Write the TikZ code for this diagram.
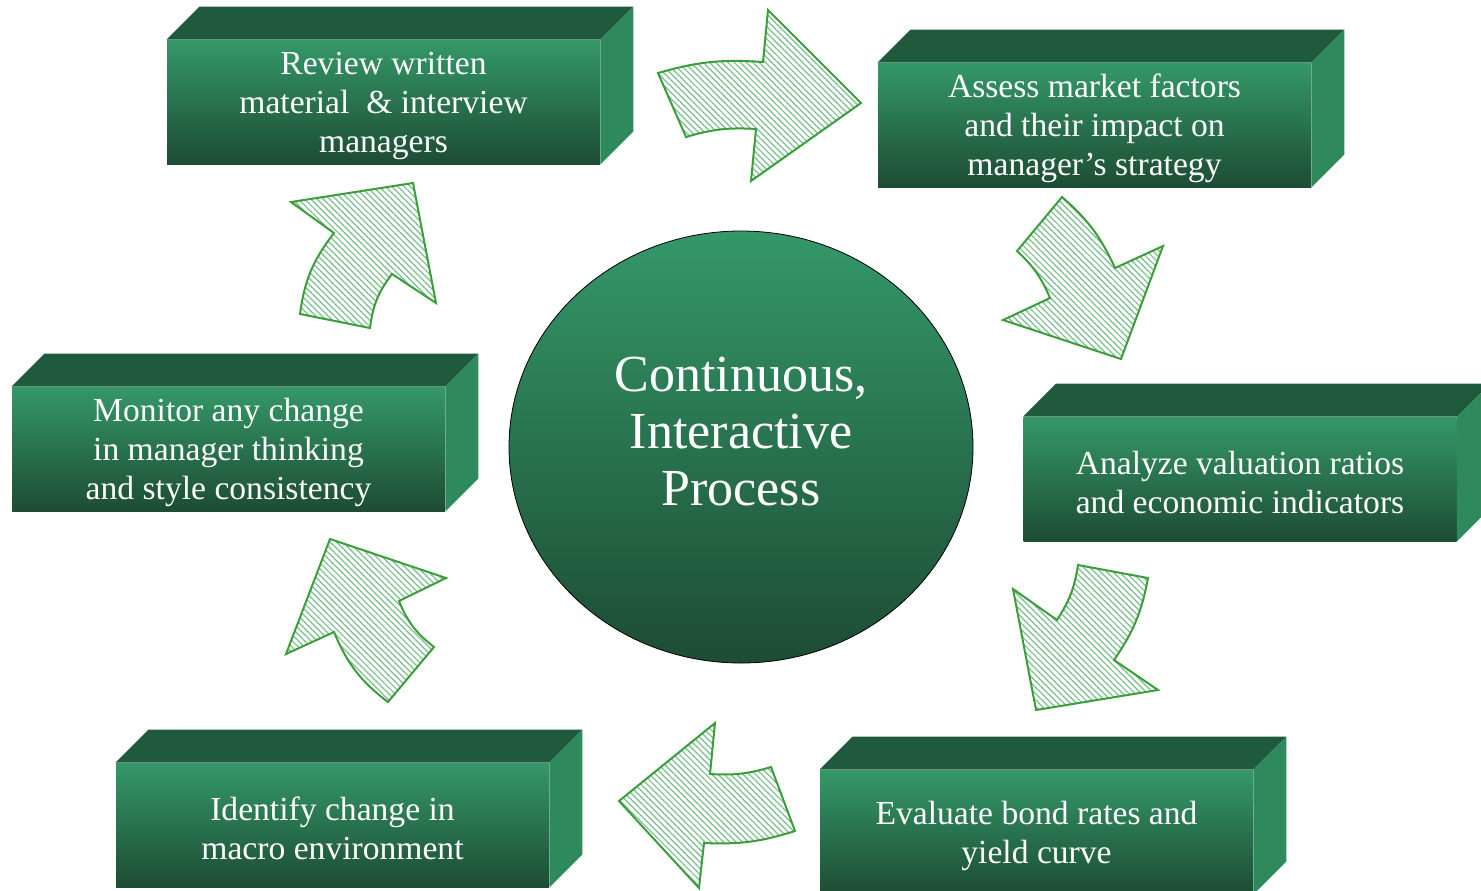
\documentclass[tikz,border=0pt]{standalone}
\usepackage{fontspec}
\setmainfont{Liberation Serif}
\usetikzlibrary{shapes.geometric,patterns.meta}

\definecolor{facetop}{RGB}{52,152,105}
\definecolor{facebot}{RGB}{29,76,52}
\definecolor{lidgreen}{RGB}{31,90,62}
\definecolor{sidegreen}{RGB}{46,138,92}
\definecolor{arrowline}{RGB}{58,158,58}
\definecolor{hatchgreen}{RGB}{120,190,140}

% extra room above the first line, pushes the text a little down
\newcommand{\topgap}{\rule{0pt}{15.5pt}}

\tikzset{
  face/.style    = {rectangle, inner sep=0pt, minimum width=216.5pt, minimum height=62pt,
                    top color=facetop, bottom color=facebot, text=white, align=center,
                    font=\fontsize{16.8}{19.5}\selectfont},
  lidface/.style  = {fill=lidgreen},
  sideface/.style = {fill=sidegreen},
  hub/.style     = {ellipse, draw=black, thin, minimum width=232pt, minimum height=216pt,
                    top color=facetop, bottom color=facebot},
  hubtext/.style = {text=white, align=center, font=\fontsize{26}{28.5}\selectfont},
  hatch/.style   = {draw=arrowline, line width=1pt, line join=miter,
                    pattern={Lines[angle=-45,distance=2.2pt,line width=0.6pt]}, pattern color=hatchgreen}
}

\begin{document}
\begin{tikzpicture}[x=0.5pt, y=-0.5pt]
\useasboundingbox (0,0) rectangle (1481,890);
\clip (0,0) rectangle (1481,890);

% centre of the cycle
\node[hub] (hub) at (741,447) {};
\node[hubtext] (hubtxt) at (741,432) {Continuous,\\Interactive\\Process};

% the six steps, front faces
\node[face] (rev) at (383.5,102) {\topgap Review written\\material \ \& interview\\managers};
\node[face] (ass) at (1094.5,125) {\topgap Assess market factors\\and their impact on\\manager’s strategy};
\node[face] (ana) at (1240,479) {\topgap Analyze valuation ratios\\and economic indicators};
\node[face] (eva) at (1036.5,832) {\topgap Evaluate bond rates and\\yield curve};
\node[face] (ide) at (332.5,825) {\topgap Identify change in\\macro environment};
\node[face] (mon) at (228.5,449) {\topgap Monitor any change\\in manager thinking\\and style consistency};

% top and right side of every box
\foreach \n in {rev,ass,ana,eva,ide,mon} {
  \fill[lidface] (\n.north west) -- ++(16.5pt,16.5pt) -- ([shift={(16.5pt,16.5pt)}]\n.north east) -- (\n.north east) -- cycle;
  \fill[sideface] (\n.north east) -- ++(16.5pt,16.5pt) -- ([shift={(16.5pt,16.5pt)}]\n.south east) -- (\n.south east) -- cycle;
}

% hatched block arrows, clockwise
\draw[hatch] (658,73) to[bend left=10] (763,62) -- (768,10) -- (861,103) -- (751,181)
  -- (756,129) to[bend right=10] (686,137) -- cycle;
\draw[hatch] (1062,197) to[bend left=12] (1115,268) -- (1163,246) -- (1121,359) -- (1003,320)
  -- (1050,298) to[bend right=12] (1017,251) -- cycle;
\draw[hatch] (1057,620) to[bend right=12] (1078,565) -- (1148,578) to[bend left=12] (1114,660)
  -- (1158,690) -- (1036,710) -- (1013,589) -- cycle;
\draw[hatch] (771,767) -- (795,831) to[bend left=10] (704,843) -- (699,888) -- (619,801)
  -- (715,723) -- (710,774) to[bend right=10] (771,767) -- cycle;
\draw[hatch] (330,539) -- (446,578) -- (399,601) to[bend right=15] (434,647) -- (388,702)
  to[bend left=15] (334,632) -- (286,654) -- cycle;
\draw[hatch] (413,183) -- (436,303) -- (392,274) to[bend right=15] (370,328) -- (300,314)
  to[bend left=15] (334,233) -- (291,202) -- cycle;
\end{tikzpicture}
\end{document}
